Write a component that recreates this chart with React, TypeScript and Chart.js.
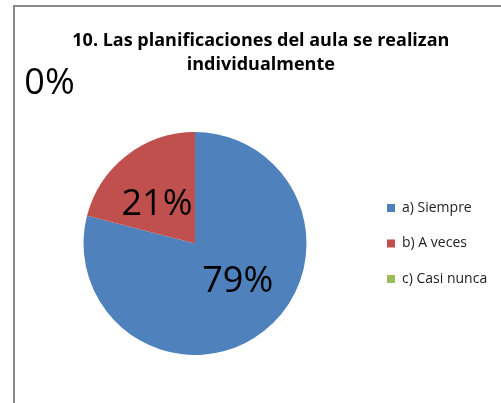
import React, { useEffect, useRef } from "react";
import { Chart, registerables } from "chart.js";

Chart.register(...registerables);

const CATEGORIES = ["a) Siempre", "b) A veces", "c) Casi nunca"];
const VALUES = [79, 21, 0];
const TITLE_LINES = ["10. Las planificaciones del aula se realizan", "individualmente"];
const COLORS = ["#4F81BD", "#C0504D", "#9BBB59"];

// placement of the percentage labels relative to the pie (deg clockwise from top, fraction of radius)
const LABEL_POLAR = [
  { angle: 130, dist: 0.5 },
  { angle: 317, dist: 0.5 },
  { angle: 318, dist: 1.95 },
];

const W = 501;
const H = 403;
const FONT = "'Open Sans', 'DejaVu Sans', sans-serif";
const LEGEND_FONT_SIZE = 14;
const LEGEND_PAD = 21.5;
const LEGEND_BOX = 8;
const LEGEND_BOX_X = 387;
const PIE_CX = 195;

const pctLabels = {
  id: "pctLabels",
  afterDatasetsDraw(chart: any) {
    const meta = chart.getDatasetMeta(0);
    const data = chart.data.datasets[0].data as number[];
    const total = data.reduce((a, b) => a + b, 0);
    const ctx = chart.ctx as CanvasRenderingContext2D;
    ctx.save();
    ctx.font = `36px ${FONT}`;
    ctx.fillStyle = "#000";
    ctx.textAlign = "center";
    ctx.textBaseline = "middle";
    meta.data.forEach((arc: any, i: number) => {
      const { x, y, outerRadius } = arc.getProps(["x", "y", "outerRadius"], true);
      const p = LABEL_POLAR[i];
      const a = (p.angle * Math.PI) / 180;
      const r = outerRadius * p.dist;
      ctx.fillText(Math.round((data[i] / total) * 100) + "%", x + r * Math.sin(a), y - r * Math.cos(a) + 2);
    });
    ctx.restore();
  },
};

export default function App() {
  const ref = useRef<HTMLCanvasElement | null>(null);

  useEffect(() => {
    const canvas = ref.current;
    if (!canvas) return;
    const mctx = document.createElement("canvas").getContext("2d")!;
    mctx.font = `normal ${LEGEND_FONT_SIZE}px ${FONT}`;
    const maxText = Math.max(...CATEGORIES.map((c) => mctx.measureText(c).width));
    const legendLeft = LEGEND_BOX_X - LEGEND_PAD;
    // Chart.js vertical legend width = padding + item width + 10
    const legendWidth = LEGEND_PAD + LEGEND_BOX + LEGEND_FONT_SIZE / 2 + maxText + 10;
    const padRight = Math.max(0, W - legendLeft - legendWidth);
    const padLeft = 2 * PIE_CX - legendLeft;

    const chart = new Chart(canvas, {
      type: "pie",
      data: {
        labels: CATEGORIES,
        datasets: [
          {
            data: VALUES,
            backgroundColor: COLORS,
            borderWidth: 0,
            hoverOffset: 0,
            offset: 0,
          },
        ],
      },
      options: {
        responsive: false,
        animation: false,
        events: [],
        layout: { padding: { left: padLeft, right: padRight, top: 0, bottom: 48 } },
        plugins: {
          tooltip: { enabled: false },
          title: {
            display: true,
            text: TITLE_LINES,
            color: "#000",
            font: { family: FONT, size: 18, weight: "bold", lineHeight: 24 / 18 },
            padding: { top: 29, bottom: 55 },
          },
          legend: {
            position: "right",
            fullSize: false,
            labels: {
              boxWidth: LEGEND_BOX,
              boxHeight: LEGEND_BOX,
              padding: LEGEND_PAD,
              color: "#222",
              font: { family: FONT, size: LEGEND_FONT_SIZE },
            },
          },
        },
      },
      plugins: [pctLabels],
    });
    return () => chart.destroy();
  }, []);

  return (
    <div style={{ position: "absolute", left: 0, top: 0, width: W, height: H, overflow: "hidden", background: "#fff" }}>
      <div
        style={{
          position: "absolute",
          left: 13,
          top: 5,
          width: 700,
          height: 600,
          border: "2px solid #8a8a8a",
        }}
      />
      <canvas ref={ref} width={W} height={H} style={{ position: "absolute", left: 0, top: 0, width: W, height: H }} />
    </div>
  );
}
